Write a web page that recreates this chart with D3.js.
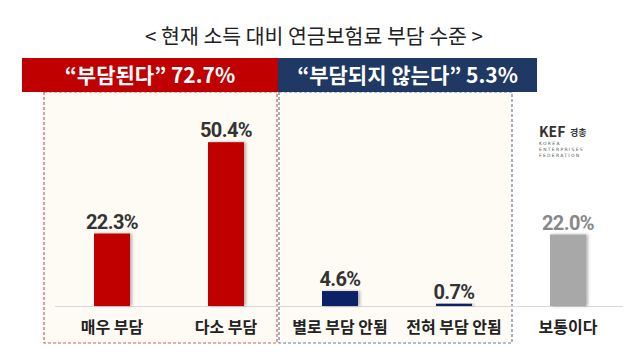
<!DOCTYPE html>
<html>
<head>
<meta charset="utf-8">
<script src="https://cdn.jsdelivr.net/npm/d3@7"></script>
<style>
  body { margin: 0; background: #fff; }
  svg { display: block; }
</style>
</head>
<body>
<div id="chart"></div>
<script>
var w = 640;
var h = 363;

// data
var categories = ["매우 부담", "다소 부담", "별로 부담 안됨", "전혀 부담 안됨", "보통이다"];
var values = [22.3, 50.4, 4.6, 0.7, 22.0];
var groups = ["burden", "burden", "noburden", "noburden", "neutral"];
var groupTitles = ["“부담된다” 72.7%", "“부담되지 않는다” 5.3%"];
var title = "< 현재 소득 대비 연금보험료 부담 수준 >";

var colors = {
  "burden": "#c00000",
  "noburden": "#0b2466",
  "neutral": "#a8a8a8"
};

var svg = d3.select("#chart")
  .append("svg")
  .attr("width", w)
  .attr("height", h);

// bar shadow
var defs = svg.append("defs");
var f = defs.append("filter").attr("id", "shadow")
  .attr("x", "-30%").attr("y", "-10%").attr("width", "160%").attr("height", "120%");
f.append("feDropShadow")
  .attr("dx", 2).attr("dy", 0)
  .attr("stdDeviation", 1.5)
  .attr("flood-color", "#000")
  .attr("flood-opacity", 0.3);

var x = d3.scalePoint()
  .domain(categories)
  .range([112, 568]);

var baseY = 306;
var y = d3.scaleLinear()
  .domain([0, 60])
  .range([baseY, baseY - 60 * 3.25]);

var barW = 36;

// title
svg.append("text")
  .attr("x", 314)
  .attr("y", 44)
  .attr("text-anchor", "middle")
  .attr("font-family", "'Noto Sans CJK KR', sans-serif")
  .attr("font-size", 20.5)
  .attr("fill", "#222")
  .text(title);

// group boxes (dashed, cream fill)
var boxes = [
  { x0: 44, x1: 277, stroke: "#d85a5a" },
  { x0: 279, x1: 512, stroke: "#6b7ea8" }
];
svg.selectAll(".box")
  .data(boxes)
  .enter()
  .append("rect")
  .attr("class", "box")
  .attr("x", d => d.x0)
  .attr("y", 92)
  .attr("width", d => d.x1 - d.x0)
  .attr("height", 343 - 92)
  .attr("fill", "#fdfbf3")
  .attr("stroke", d => d.stroke)
  .attr("stroke-width", 1.2)
  .attr("stroke-dasharray", "3,2");

// group headers
var headers = [
  { x0: 22, x1: 278, fill: "#c00000" },
  { x0: 278, x1: 537, fill: "#1f3864" }
];
svg.selectAll(".hdr")
  .data(headers)
  .enter()
  .append("rect")
  .attr("class", "hdr")
  .attr("x", d => d.x0)
  .attr("y", 58)
  .attr("width", d => d.x1 - d.x0)
  .attr("height", 34)
  .attr("fill", d => d.fill);

svg.selectAll(".hdrText")
  .data(headers)
  .enter()
  .append("text")
  .attr("class", "hdrText")
  .attr("x", d => (d.x0 + d.x1) / 2)
  .attr("y", 83)
  .attr("text-anchor", "middle")
  .attr("font-family", "'Noto Sans CJK KR', sans-serif")
  .attr("font-weight", "bold")
  .attr("font-size", 21)
  .attr("fill", "#fff")
  .text((d, i) => groupTitles[i]);

// baseline
svg.append("line")
  .attr("x1", 55)
  .attr("x2", 623)
  .attr("y1", baseY + 0.5)
  .attr("y2", baseY + 0.5)
  .attr("stroke", "#d8d8d8")
  .attr("stroke-width", 1);

// bars
svg.selectAll(".bar")
  .data(values)
  .enter()
  .append("rect")
  .attr("class", "bar")
  .attr("x", (d, i) => x(categories[i]) - barW / 2)
  .attr("y", d => y(d))
  .attr("width", barW)
  .attr("height", d => baseY - y(d))
  .attr("fill", (d, i) => colors[groups[i]])
  .attr("filter", "url(#shadow)");

// value labels
svg.selectAll(".val")
  .data(values)
  .enter()
  .append("text")
  .attr("class", "val")
  .attr("x", (d, i) => x(categories[i]))
  .attr("y", d => y(d) - 5)
  .attr("text-anchor", "middle")
  .attr("font-family", "Roboto, sans-serif")
  .attr("font-weight", "bold")
  .attr("font-size", 20)
  .attr("letter-spacing", -0.6)
  .attr("fill", (d, i) => groups[i] == "neutral" ? "#888" : "#333")
  .text(d => d.toFixed(1) + "%");

// category labels
svg.selectAll(".cat")
  .data(categories)
  .enter()
  .append("text")
  .attr("class", "cat")
  .attr("x", d => x(d))
  .attr("y", 333)
  .attr("text-anchor", "middle")
  .attr("font-family", "'Noto Sans CJK KR', sans-serif")
  .attr("font-weight", "bold")
  .attr("font-size", 16)
  .attr("fill", "#222")
  .text(d => d);

// KEF logo
var logo = svg.append("g").attr("transform", "translate(539,0)");
logo.append("text")
  .attr("x", 0).attr("y", 137)
  .attr("font-family", "'Noto Sans CJK KR', sans-serif")
  .attr("font-weight", "bold")
  .attr("font-size", 14)
  .attr("fill", "#333")
  .text("KEF");
logo.append("text")
  .attr("x", 31).attr("y", 136)
  .attr("font-family", "'Noto Sans CJK KR', sans-serif")
  .attr("font-weight", "bold")
  .attr("font-size", 9)
  .attr("fill", "#333")
  .text("경총");
logo.selectAll(".sub")
  .data(["KOREA", "ENTERPRISES", "FEDERATION"])
  .enter()
  .append("text")
  .attr("x", 0)
  .attr("y", (d, i) => 145 + i * 6)
  .attr("font-family", "'DejaVu Sans', sans-serif")
  .attr("font-size", 4.5)
  .attr("letter-spacing", 1.3)
  .attr("fill", "#555")
  .text(d => d);
</script>
</body>
</html>
